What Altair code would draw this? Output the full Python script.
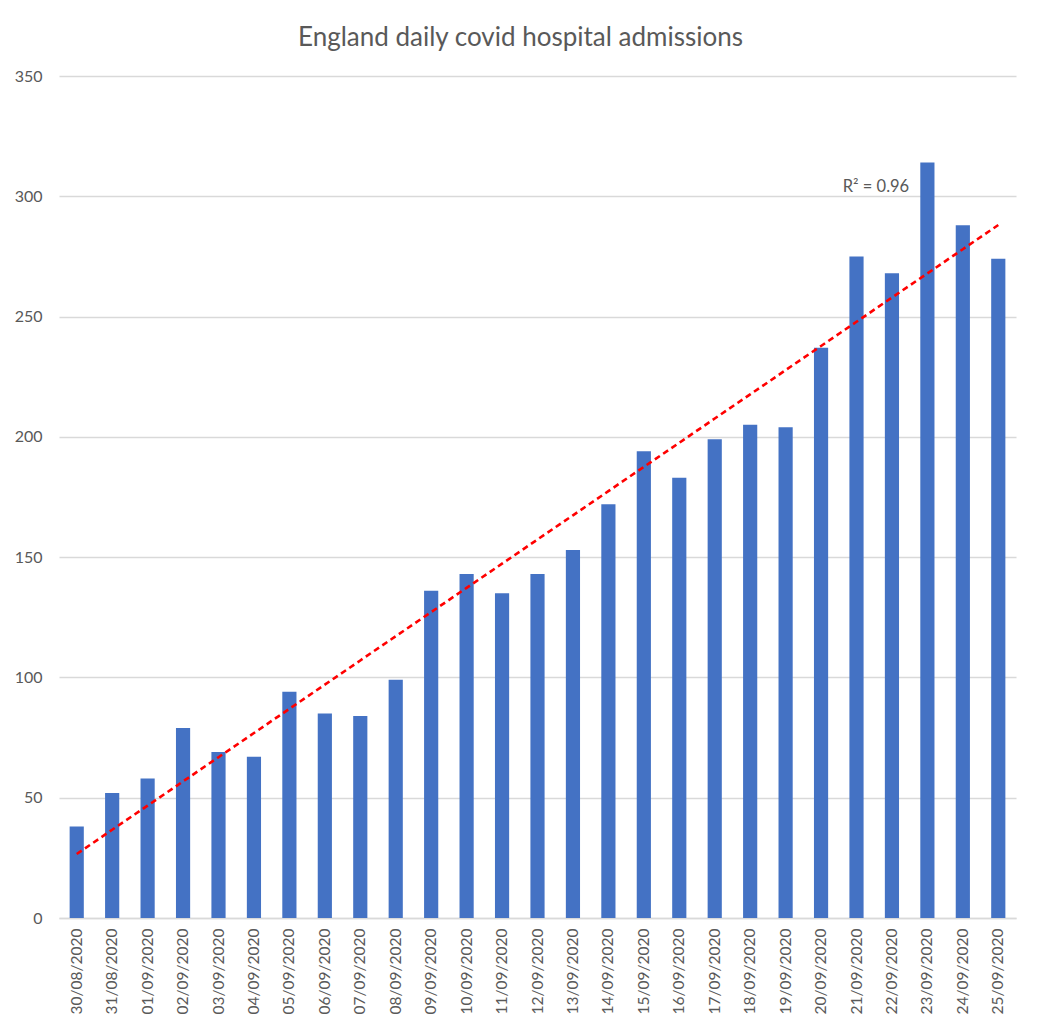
import altair as alt
import pandas as pd
import numpy as np

dates = ["30/08/2020", "31/08/2020", "01/09/2020", "02/09/2020", "03/09/2020", "04/09/2020",
         "05/09/2020", "06/09/2020", "07/09/2020", "08/09/2020", "09/09/2020", "10/09/2020",
         "11/09/2020", "12/09/2020", "13/09/2020", "14/09/2020", "15/09/2020", "16/09/2020",
         "17/09/2020", "18/09/2020", "19/09/2020", "20/09/2020", "21/09/2020", "22/09/2020",
         "23/09/2020", "24/09/2020", "25/09/2020"]
admissions = [38, 52, 58, 79, 69, 67, 94, 85, 84, 99, 136, 143, 135, 143, 153, 172, 194, 183,
              199, 205, 204, 237, 275, 268, 314, 288, 274]
y_ticks = [0, 50, 100, 150, 200, 250, 300, 350]
r2_label = "R² = 0.96"

idx = np.arange(len(admissions))
slope, intercept = np.polyfit(idx, admissions, 1)
trend = slope * idx + intercept

df = pd.DataFrame({"date": dates, "admissions": admissions, "trend": trend})

FONT = "Lato"
GRAY = "#595959"

x_enc = alt.X("date:O", sort=dates, title=None,
              scale=alt.Scale(paddingInner=0.6, paddingOuter=0.3),
              axis=alt.Axis(labelAngle=-90, labelFontSize=15.5, labelColor=GRAY, labelFont=FONT,
                            domainColor="#d9d9d9", domainWidth=1.5, ticks=False, labelPadding=10,
                            grid=False))

bars = alt.Chart(df).mark_bar(color="#4472C4").encode(
    x=x_enc,
    y=alt.Y("admissions:Q", title=None,
            scale=alt.Scale(domain=[0, 350], nice=False),
            axis=alt.Axis(values=y_ticks, labelFontSize=16, labelColor=GRAY, labelFont=FONT,
                          domain=False, ticks=False, labelPadding=17,
                          gridColor="#d9d9d9", gridWidth=1.3)),
)

line = alt.Chart(df).mark_line(color="#FF0000", strokeWidth=2.6, strokeDash=[6, 4]).encode(
    x=alt.X("date:O", sort=dates),
    y=alt.Y("trend:Q"),
)

label_df = pd.DataFrame({"date": ["22/09/2020"], "yv": [304], "label": [r2_label]})
label = alt.Chart(label_df).mark_text(fontSize=16.5, color=GRAY, font=FONT, dx=-16).encode(
    x=alt.X("date:O", sort=dates),
    y=alt.Y("yv:Q"),
    text="label:N",
)

chart = alt.layer(bars, line, label).properties(
    width=957, height=842,
    title=alt.TitleParams("England daily covid hospital admissions", fontSize=26,
                          font=FONT, fontWeight="normal", color=GRAY, anchor="middle",
                          offset=17, dx=-17),
    autosize=alt.AutoSizeParams(type="none"),
    padding={"left": 51, "top": 68, "right": 10, "bottom": 100},
).configure_view(stroke=None)

chart.save("out.html", embed_options={"renderer": "svg", "actions": False})
